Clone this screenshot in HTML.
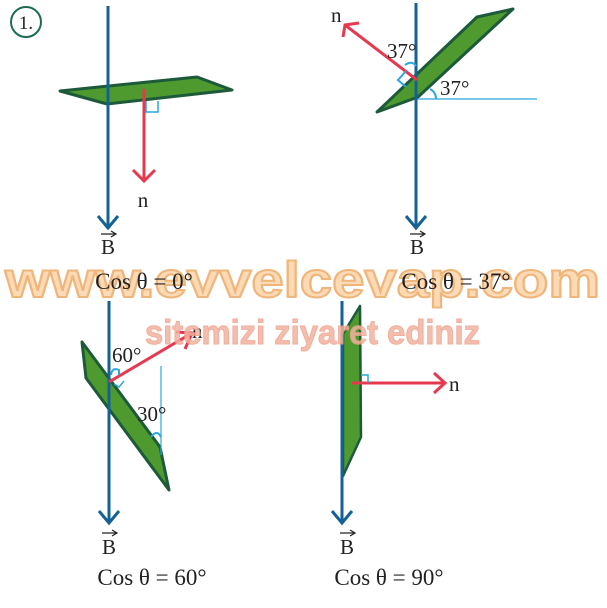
<!DOCTYPE html>
<html><head><style>html,body{margin:0;padding:0;background:#fff;}svg{display:block}</style></head>
<body>
<svg width="607" height="608" viewBox="0 0 607 608" xmlns="http://www.w3.org/2000/svg" font-family="Liberation Serif, serif">
<circle cx="26" cy="22" r="15" stroke="#1e6b55" stroke-width="2" fill="none"/>
<text x="26" y="29" font-size="19" text-anchor="middle" fill="#222">1.</text>

<!-- Panel 1 -->
<polygon points="60,91 197,77 232,90 107,104" fill="#4e9a2f" stroke="#1d5a3a" stroke-width="3" stroke-linejoin="round"/>
<line x1="108" y1="6" x2="108" y2="228" stroke="#146293" stroke-width="3"/>
<polyline points="98,216 108,228 118,216" fill="none" stroke="#146293" stroke-width="3"/>
<line x1="144" y1="89" x2="144" y2="181" stroke="#e63950" stroke-width="3"/>
<polyline points="133,170 144,181 155,170" fill="none" stroke="#e63950" stroke-width="3"/>
<polyline points="146,101 146,112 158,112 158,101" fill="none" stroke="#2aa7dc" stroke-width="1.5"/>
<text x="143" y="207" font-size="21" text-anchor="middle" fill="#222">n</text>
<text x="108" y="254" font-size="21" text-anchor="middle" fill="#222">B</text>
<path d="M101 234 H115 M111 231 L116 234 L111 237" stroke="#222" stroke-width="1.2" fill="none"/>

<!-- Panel 2 -->
<polygon points="377,112 477,17 513,9 418,97" fill="#4e9a2f" stroke="#1d5a3a" stroke-width="3" stroke-linejoin="round"/>
<line x1="417" y1="99" x2="537" y2="99" stroke="#2aa7dc" stroke-width="1.2"/>
<line x1="416" y1="3" x2="416" y2="228" stroke="#146293" stroke-width="3"/>
<polyline points="406,216 416,228 426,216" fill="none" stroke="#146293" stroke-width="3"/>
<line x1="417" y1="80" x2="345" y2="25" stroke="#e63950" stroke-width="3"/>
<polyline points="343,37 345,25 359,23" fill="none" stroke="#e63950" stroke-width="3"/>
<path d="M406 71 L398 80 L406 87" fill="none" stroke="#2aa7dc" stroke-width="2"/>
<path d="M405 65 Q412 60 416 66" fill="none" stroke="#2aa7dc" stroke-width="2"/>
<path d="M430 89 Q436 92 436 99" fill="none" stroke="#2aa7dc" stroke-width="2"/>
<text x="331" y="22" font-size="21" fill="#222">n</text>
<text x="387" y="58" font-size="21" fill="#222">37°</text>
<text x="440" y="95" font-size="21" fill="#222">37°</text>
<text x="417" y="254" font-size="21" text-anchor="middle" fill="#222">B</text>
<path d="M410 234 H424 M420 231 L425 234 L420 237" stroke="#222" stroke-width="1.2" fill="none"/>

<!-- Panel 3 -->
<polygon points="82,342 160,447 169,490 86,378" fill="#4e9a2f" stroke="#1d5a3a" stroke-width="3" stroke-linejoin="round"/>
<line x1="161" y1="366" x2="161" y2="455" stroke="#2aa7dc" stroke-width="1.2"/>
<line x1="109" y1="301" x2="109" y2="523" stroke="#146293" stroke-width="3"/>
<polyline points="99,511 109,523 119,511" fill="none" stroke="#146293" stroke-width="3"/>
<line x1="109" y1="382" x2="192" y2="333" stroke="#e63950" stroke-width="3"/>
<polyline points="176,332 192,333 185,349" fill="none" stroke="#e63950" stroke-width="3"/>
<path d="M111 375 Q112 367 119 370 L119 375" fill="none" stroke="#2aa7dc" stroke-width="2"/>
<path d="M114 384 L119 387 L124 381" fill="none" stroke="#2aa7dc" stroke-width="1.5"/>
<path d="M151 437 Q157 429 161 437" fill="none" stroke="#2aa7dc" stroke-width="2"/>
<text x="192" y="338" font-size="21" fill="#222">n</text>
<text x="112" y="362" font-size="21" fill="#222">60°</text>
<text x="137" y="421" font-size="21" fill="#222">30°</text>
<text x="109" y="554" font-size="21" text-anchor="middle" fill="#222">B</text>
<path d="M102 533 H116 M112 530 L117 533 L112 536" stroke="#222" stroke-width="1.2" fill="none"/>
<text x="152" y="585" font-size="23" text-anchor="middle" fill="#222">Cos θ = 60°</text>

<!-- Panel 4 -->
<polygon points="360,306 361,437 343,476 343,334" fill="#4e9a2f" stroke="#1d5a3a" stroke-width="2.5" stroke-linejoin="round"/>
<line x1="342" y1="301" x2="342" y2="523" stroke="#146293" stroke-width="3"/>
<polyline points="332,511 342,523 352,511" fill="none" stroke="#146293" stroke-width="3"/>
<line x1="352" y1="383" x2="445" y2="383" stroke="#e63950" stroke-width="3"/>
<polyline points="434,373 445,383 434,393" fill="none" stroke="#e63950" stroke-width="3"/>
<polyline points="361,375 368,375 368,383" fill="none" stroke="#2aa7dc" stroke-width="1.5"/>
<text x="449" y="391" font-size="21" fill="#222">n</text>
<text x="347" y="554" font-size="21" text-anchor="middle" fill="#222">B</text>
<path d="M340 533 H354 M350 530 L355 533 L350 536" stroke="#222" stroke-width="1.2" fill="none"/>
<text x="389" y="585" font-size="23" text-anchor="middle" fill="#222">Cos θ = 90°</text>

<!-- watermarks -->
<text x="5" y="297" font-size="50" font-weight="bold" font-family="Liberation Sans, sans-serif" textLength="595" lengthAdjust="spacingAndGlyphs" fill="#fbd7ad" stroke="#efae6c" stroke-width="2" opacity="0.9">www.evvelcevap.com</text>
<text x="145" y="344" font-size="34" font-weight="bold" font-family="Liberation Sans, sans-serif" textLength="335" lengthAdjust="spacingAndGlyphs" fill="#f3b3a0" stroke="#eea08a" stroke-width="1" opacity="0.85">sitemizi ziyaret ediniz</text>

<text x="144" y="289" font-size="23" text-anchor="middle" fill="#222">Cos θ = 0°</text>
<text x="456" y="289" font-size="23" text-anchor="middle" fill="#222">Cos θ = 37°</text>
</svg>
</body></html>
